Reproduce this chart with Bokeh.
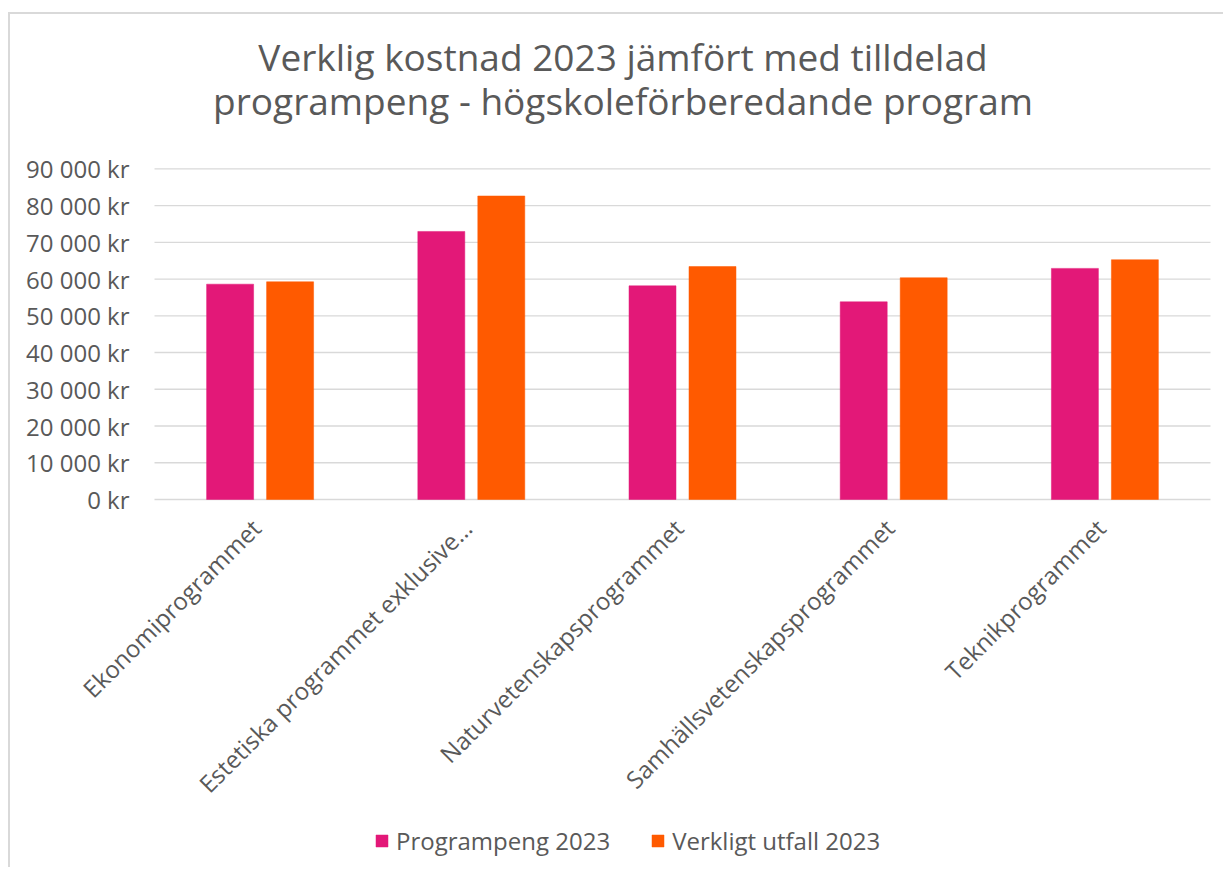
import math
from bokeh.plotting import figure
from bokeh.models import Range1d, Label, Legend, LegendItem, ColumnDataSource
from bokeh.transform import dodge
from bokeh.core.properties import value
from bokeh.embed import file_html
from bokeh.resources import INLINE

# ---- data ----
categories = [
    "Ekonomiprogrammet",
    "Estetiska programmet exklusive…",
    "Naturvetenskapsprogrammet",
    "Samhällsvetenskapsprogrammet",
    "Teknikprogrammet",
]
programpeng_2023 = [58600, 72950, 58150, 53800, 62900]
verkligt_utfall_2023 = [59250, 82600, 63400, 60350, 65250]
series_names = ["Programpeng 2023", "Verkligt utfall 2023"]
y_ticks = [0, 10000, 20000, 30000, 40000, 50000, 60000, 70000, 80000, 90000]
y_tick_labels = ["0 kr", "10 000 kr", "20 000 kr", "30 000 kr", "40 000 kr",
                 "50 000 kr", "60 000 kr", "70 000 kr", "80 000 kr", "90 000 kr"]
title_lines = ["Verklig kostnad 2023 jämfört med tilldelad",
               "programpeng - högskoleförberedande program"]

# ---- style / layout ----
FONT = "Open Sans"
TEXT = "#595959"
GRID = "#d9d9d9"
PINK = "#E31878"
ORANGE = "#FF5A00"

W, H = 1215, 855
CANVAS_LEFT, CANVAS_TOP = 10, 14      # page position of the canvas (margin + border)
PLOT_LEFT_PX, PLOT_RIGHT_PX = 154, 1210
GRID_TOP_PX, GRID_ZERO_PX = 168.3, 499.0

n_cat = len(categories)
px_per_cat = (PLOT_RIGHT_PX - PLOT_LEFT_PX) / n_cat
x_start = -(PLOT_LEFT_PX - CANVAS_LEFT) / px_per_cat
x_end = n_cat + ((CANVAS_LEFT + W) - PLOT_RIGHT_PX) / px_per_cat
px_per_unit = (GRID_ZERO_PX - GRID_TOP_PX) / y_ticks[-1]
y_end = y_ticks[-1] + (GRID_TOP_PX - CANVAS_TOP) / px_per_unit
y_start = -((CANVAS_TOP + H) - GRID_ZERO_PX) / px_per_unit

src = ColumnDataSource(dict(x=[i + 0.5 for i in range(n_cat)], cat=categories,
                            p=programpeng_2023, v=verkligt_utfall_2023))
grid_src = ColumnDataSource(dict(y=y_ticks, label=y_tick_labels))

p = figure(x_range=Range1d(x_start, x_end), y_range=Range1d(y_start, y_end),
           width=W, height=H, output_backend="svg", toolbar_location=None,
           x_axis_location=None, y_axis_location=None,
           min_border_left=0, min_border_right=0, min_border_top=0,
           min_border_bottom=0)
p.styles = {"border-top": "2px solid #d9d9d9", "border-left": "2px solid #d9d9d9",
            "margin-top": "12px", "margin-left": "8px"}
p.outline_line_color = None
p.background_fill_color = "white"
p.border_fill_color = "white"
p.grid.grid_line_color = None
p.grid.visible = False

# horizontal gridlines spanning the category area
p.segment(x0=0, x1=n_cat, y0="y", y1="y", source=grid_src,
          line_color=GRID, line_width=1.3)

# y tick labels
p.text(x=0, y="y", text="label", source=grid_src, x_offset=-25,
       text_align="right", text_baseline="middle",
       text_font=value(FONT), text_font_size=value("24px"), text_color=TEXT)

# bars
r1 = p.vbar(x=dodge("x", -0.142), top="p", width=0.2225,
            source=src, fill_color=PINK, line_color=PINK, line_width=0.5)
r2 = p.vbar(x=dodge("x", 0.142), top="v", width=0.2225,
            source=src, fill_color=ORANGE, line_color=ORANGE, line_width=0.5)

# category labels (rotated 45°) under the zero line
p.text(x="x", y=0, text="cat", source=src, angle=math.pi / 4,
       x_offset=-4, y_offset=24, text_align="right", text_baseline="middle",
       text_font=value(FONT), text_font_size=value("24px"), text_color=TEXT)

# title (two lines, screen units relative to frame bottom-left)
frame_bottom_page = CANVAS_TOP + H
title_center_x = 622.5 - CANVAS_LEFT
for line, base_page_y in zip(title_lines, [56.0, 100.0]):
    p.add_layout(Label(x=title_center_x, y=frame_bottom_page - base_page_y,
                       x_units="screen", y_units="screen",
                       text=line, text_align="center", text_baseline="alphabetic",
                       text_font=FONT, text_font_size="37px", text_color=TEXT))

# legend
legend = Legend(items=[LegendItem(label=series_names[0], renderers=[r1]),
                       LegendItem(label=series_names[1], renderers=[r2])],
                location=(364, 12), orientation="horizontal",
                label_text_font=FONT, label_text_font_size="24px",
                label_text_color=TEXT, glyph_width=15, glyph_height=15,
                label_standoff=7, spacing=40, padding=0, margin=0,
                border_line_color=None, background_fill_alpha=0)
p.add_layout(legend)

open("out.html", "w").write(file_html(p, INLINE))
